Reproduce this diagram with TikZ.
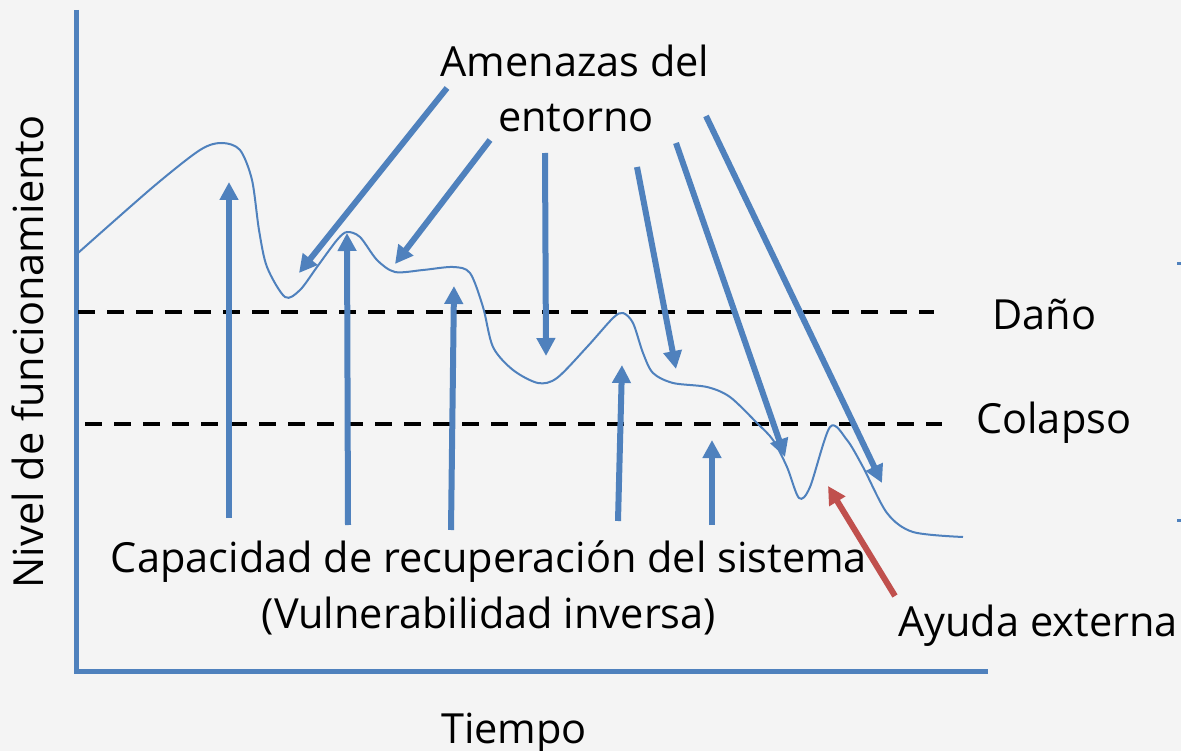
\documentclass[tikz,border=0pt]{standalone}
\usepackage{fontspec}
\setmainfont{Open Sans}
\usetikzlibrary{arrows.meta}
\definecolor{obl}{HTML}{4F81BD}
\definecolor{ored}{HTML}{C0504D}
\definecolor{bg}{HTML}{F4F4F4}
\tikzset{
  barrow/.style={draw=obl, line width=6pt, -{Triangle[length=18pt,width=18pt]}},
  rarrow/.style={draw=ored, line width=6pt, -{Triangle[length=18pt,width=18pt]}},
  lvl/.style={draw=black, line width=4pt, dash pattern=on 17pt off 12pt},
  lbl/.style={font=\fontsize{41.5}{56}\selectfont, inner sep=0pt},
}
\begin{document}
\begin{tikzpicture}[x=1pt,y=-1pt]
\fill[bg] (0,0) rectangle (1181,751);
\useasboundingbox (0,0) rectangle (1181,751);
% axes
\coordinate (top) at (76,10);
\coordinate (orig) at (76,671);
\coordinate (xend) at (988,671);
\draw[obl, line width=5pt] (top) -- (orig) -- (xend);
% levels
\coordinate (d1) at (78,312); \coordinate (d2) at (934,312);
\coordinate (c1) at (85,424); \coordinate (c2) at (942,424);
\draw[lvl] (d1) -- (d2);
\draw[lvl] (c1) -- (c2);
% curve
\draw[obl, line width=2pt] plot[smooth, tension=0.5] coordinates {
(78,253) (153,187) (200,150) (222,143) (240,150) (252,180) (259,230) (267,267) (285,297)
(300,290) (317,267) (337,240) (347,232) (360,237) (377,260) (395,272) (423,270) (453,267)
(470,273) (483,307) (493,347) (513,370) (538,383) (557,378) (587,347) (613,318) (623,313)
(633,323) (643,353) (653,373) (673,383) (707,387) (730,397) (757,423) (773,440) (787,467)
(799,498) (810,487) (830,427) (847,440) (863,467) (887,513) (913,532) (963,537)};
% up arrows
\coordinate (u1a) at (229,518); \coordinate (u1b) at (229,182);
\coordinate (u2a) at (348,525); \coordinate (u2b) at (347,233);
\coordinate (u3a) at (451,530); \coordinate (u3b) at (454,286);
\coordinate (u4a) at (618,521); \coordinate (u4b) at (622,365);
\coordinate (u5a) at (712,525); \coordinate (u5b) at (712,440);
\foreach \i in {1,...,5} \draw[barrow] (u\i a) -- (u\i b);
% down arrows
\coordinate (a1a) at (447,88);  \coordinate (a1b) at (299,273);
\coordinate (a2a) at (490,140); \coordinate (a2b) at (395,264);
\coordinate (a3a) at (545,153); \coordinate (a3b) at (546,356);
\coordinate (a4a) at (637,167); \coordinate (a4b) at (676,369);
\coordinate (a5a) at (676,143); \coordinate (a5b) at (785,457);
\coordinate (a6a) at (706,116); \coordinate (a6b) at (882,483);
\foreach \i in {1,...,6} \draw[barrow] (a\i a) -- (a\i b);
% red arrow
\coordinate (ra) at (895,596); \coordinate (rb) at (828,486);
\draw[rarrow] (ra) -- (rb);
% edge marks
\draw[obl, line width=3pt] (1177,264) -- (1181,264);
\draw[obl, line width=3pt] (1177,520) -- (1181,520);
% labels
\node[lbl, anchor=base] (amen1) at (575,77) {Amenazas del};
\node[lbl, anchor=base] (amen2) at (576,132) {entorno};
\node[lbl, anchor=base west] (dano) at (992,330) {Daño};
\node[lbl, anchor=base west] (colapso) at (976,433) {Colapso};
\node[lbl, anchor=base] (cap1) at (489,572) {Capacidad de recuperación del sistema};
\node[lbl, anchor=base] (cap2) at (489,628) {(Vulnerabilidad inversa)};
\node[lbl, anchor=base east] (ayuda) at (1178,636) {Ayuda externa};
\node[lbl, anchor=base] (tiempo) at (514,743) {Tiempo};
\node[lbl, rotate=90, anchor=base] (nivel) at (43,352) {Nivel de funcionamiento};
\end{tikzpicture}
\end{document}
